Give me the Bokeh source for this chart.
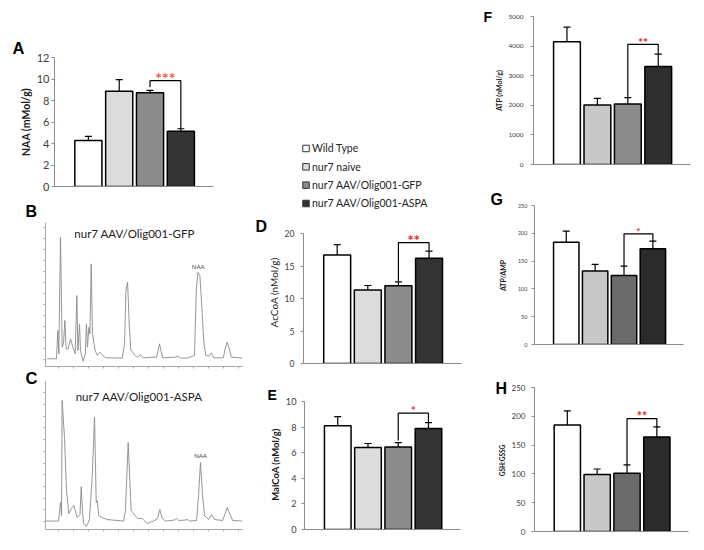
from bokeh.plotting import figure
from bokeh.models import (ColumnDataSource, Range1d, FixedTicker, Label, Whisker, TeeHead)
from bokeh.layouts import row, column
from bokeh.embed import file_html
from bokeh.resources import INLINE
from bokeh.core.properties import value

# ---------------- data ----------------
groups = ["Wild Type", "nur7 naive", "nur7 AAV/Olig001-GFP", "nur7 AAV/Olig001-ASPA"]
panel_letters = ["A", "B", "C", "D", "E", "F", "G", "H"]

naa_mean = [4.27, 8.85, 8.72, 5.15]
naa_err = [0.39, 1.09, 0.23, 0.22]
naa_bracket = [9.25, 9.84, 5.36]
naa_stars, naa_star_y = "***", 10.5
naa_ticks = [0, 2, 4, 6, 8, 10, 12]

accoa_mean = [16.7, 11.3, 11.95, 16.2]
accoa_err = [1.6, 0.7, 0.6, 1.1]
accoa_bracket = [12.7, 18.6, 17.4]
accoa_stars, accoa_star_y = "**", 19.6
accoa_ticks = [0, 5, 10, 15, 20]

malcoa_mean = [8.1, 6.4, 6.45, 7.9]
malcoa_err = [0.72, 0.32, 0.33, 0.45]
malcoa_bracket = [6.96, 9.09, 8.39]
malcoa_stars, malcoa_star_y = "*", 9.5
malcoa_ticks = [0, 2, 4, 6, 8, 10]

atp_mean = [4150, 2010, 2040, 3310]
atp_err = [490, 225, 220, 420]
atp_bracket = [2270, 4056, 3730]
atp_stars, atp_star_y = "**", 4236
atp_ticks = [0, 1000, 2000, 3000, 4000, 5000]

ratio_mean = [184, 132, 124, 172]
ratio_err = [20, 12, 17, 14]
ratio_bracket = [141, 199, 186]
ratio_stars, ratio_star_y = "*", 207
ratio_ticks = [0, 50, 100, 150, 200, 250]

gsh_mean = [185, 99, 101, 164]
gsh_err = [24.5, 9.5, 14.5, 17.5]
gsh_bracket = [116, 196, 181]
gsh_stars, gsh_star_y = "**", 205
gsh_ticks = [0, 50, 100, 150, 200, 250]

# chromatograms (minutes, signal)
gfp_time = [0.22, 0.84, 0.93, 1.0, 1.11, 1.22, 1.31, 1.4, 1.49, 1.62, 1.78, 1.93, 2.09, 2.2,
            2.27, 2.38, 2.44, 2.62, 2.76, 2.84, 2.91, 3.0, 3.07, 3.16, 3.24, 3.33, 3.42, 3.56,
            3.71, 3.84, 4.11, 5.22, 5.38, 5.47, 5.58, 5.69, 5.8, 5.93, 6.07, 6.24, 6.44, 6.62,
            7.51, 7.62, 7.71, 7.8, 7.93, 8.78, 8.93, 9.11, 9.56, 10.04, 10.16, 10.27, 10.4,
            10.53, 10.67, 10.8, 11.0, 11.16, 11.33, 11.96, 12.11, 12.22, 12.36, 12.49, 13.22]
gfp_signal = [0.02, 0.02, 2.59, 0.47, 11.08, 1.08, 1.38, 3.5, 0.92, 0.92, 1.83, 1.08, 0.47, 5.77,
              0.77, 3.2, 0.77, -0.2, 0.47, 3.2, 1.08, 2.89, 2.29, 8.65, 2.29, 1.53, 0.77, 0.32,
              0.62, 0.47, 0.11, 0.08, 1.38, 6.23, 6.98, 3.2, 0.77, 0.62, 0.32, 0.17, 0.41, 0.11,
              0.17, 0.77, 1.38, 0.77, 0.11, 0.17, 0.26, 0.08, 0.08, 0.32, 6.23, 7.89, 7.59,
              4.71, 1.38, 0.32, 0.26, 0.56, 0.11, 0.11, 1.08, 1.53, 0.92, 0.17, 0.08]

aspa_time = [0.11, 0.98, 1.11, 1.18, 1.22, 1.38, 1.51, 1.66, 1.84, 2.0, 2.22, 2.41, 2.49, 2.58,
             2.66, 2.84, 3.04, 3.22, 3.38, 3.49, 3.56, 3.66, 3.89, 4.22, 5.31, 5.44, 5.62, 5.82,
             5.93, 6.07, 6.27, 6.56, 6.89, 7.31, 7.58, 7.73, 7.89, 8.11, 8.71, 8.84, 8.98, 9.44,
             9.58, 9.71, 10.18, 10.31, 10.44, 10.58, 10.71, 10.98, 11.18, 11.38, 11.91, 12.08,
             12.22, 12.38, 12.58, 13.24]
aspa_signal = [0.04, 0.04, 1.62, 0.51, 10.34, 7.09, 2.65, 0.68, 1.11, 1.37, 0.34, 0.6, 2.99, 0.77,
               -0.17, -0.43, 0.17, 3.76, 8.89, 1.62, 1.79, 0.51, 0.34, 0.17, 0.04, 0.94, 6.75, 0.94,
               0.77, 0.51, 0.26, 0.26, -0.17, 0.04, 0.26, 1.03, 0.26, 0.04, 0.13, 0.26, 0.09, 0.13,
               0.17, 0.04, 0.09, 2.22, 5.04, 2.22, 0.51, 0.17, 0.6, 0.17, 0.09, 0.68,
               1.2, 0.68, 0.09, 0.04]
chrom_time_ticks = list(range(1, 14))
chrom_signal_ticks = list(range(0, 13))

FONT = "Lato"
LETTER_FONT = "Liberation Sans"


def base_fig(box, frame, x_range, y_range):
    x0, y0, x1, y1 = box
    l, t, r, b = frame
    p = figure(width=x1 - x0, height=y1 - y0, x_range=x_range, y_range=y_range,
               output_backend="svg", toolbar_location=None,
               min_border_left=l - x0, min_border_right=x1 - r,
               min_border_top=t - y0, min_border_bottom=y1 - b)
    p.outline_line_color = None
    p.xgrid.visible = False
    p.ygrid.visible = False
    p.background_fill_color = "white"
    p.border_fill_color = "white"
    return p


def strip_fig(box):
    # a figure whose frame is the whole box, ranges in page pixels (y downwards)
    x0, y0, x1, y1 = box
    p = figure(width=x1 - x0, height=y1 - y0, x_range=Range1d(x0, x1), y_range=Range1d(y1, y0),
               output_backend="svg", toolbar_location=None,
               x_axis_location=None, y_axis_location=None, min_border=0)
    p.outline_line_color = None
    p.xgrid.visible = False
    p.ygrid.visible = False
    p.border_fill_color = "white"
    return p


def put(p, frame, X, Y, text, size, bold=False, color="#111111", align="left",
        baseline="middle", angle=0.0, font=FONT):
    l, t, r, b = frame
    p.add_layout(Label(x=X - l, y=b - Y, x_units="screen", y_units="screen", text=text,
                       text_font=font, text_font_size=f"{size}px",
                       text_font_style="bold" if bold else "normal",
                       text_color=color, text_align=align, text_baseline=baseline,
                       angle=angle))


def hide_labels(ax):
    ax.major_label_text_font_size = "1px"
    ax.major_label_text_alpha = 0
    ax.major_label_standoff = 0


def bar_panel(box, frame, means, errs, ticks, bracket, stars, star_y, colors,
              tick_size, standoff, star_size, star_color):
    p = base_fig(box, frame, Range1d(-1.1, 4.06), Range1d(ticks[0], ticks[-1]))
    src = ColumnDataSource(dict(
        x=list(range(len(groups))), top=means,
        upper=[m + e for m, e in zip(means, errs)],
        lower=[m - e for m, e in zip(means, errs)],
        color=colors, group=groups))
    p.vbar(x="x", top="top", width=0.88, source=src, fill_color="color",
           line_color="black", line_width=1.5)
    p.add_layout(Whisker(source=src, base="x", upper="upper", lower="lower",
                         line_color="black", line_width=1.2,
                         upper_head=TeeHead(size=7, line_color="black", line_width=1.2),
                         lower_head=TeeHead(size=7, line_color="black", line_width=1.2)))
    p.line(x=[2, 2, 3, 3], y=[bracket[0], bracket[1], bracket[1], bracket[2]],
           line_color="black", line_width=1.2)
    p.text(x=[2.5], y=[star_y], text=[stars], text_color=star_color,
           text_font=value(FONT), text_font_size=f"{star_size}px", text_font_style="bold",
           text_align="center", text_baseline="middle", y_offset=round(0.25 * star_size))
    yax = p.yaxis[0]
    yax.ticker = FixedTicker(ticks=ticks)
    yax.axis_line_color = "#8c8c8c"
    yax.major_tick_line_color = "#8c8c8c"
    yax.major_tick_out = 3
    yax.major_tick_in = 0
    yax.minor_tick_out = 0
    yax.minor_tick_in = 0
    yax.major_label_standoff = int(standoff)
    yax.major_label_text_font = FONT
    yax.major_label_text_font_size = f"{tick_size}px"
    yax.major_label_text_color = "#404040"
    xax = p.xaxis[0]
    xax.ticker = FixedTicker(ticks=[])
    xax.axis_line_color = "#8c8c8c"
    xax.major_tick_out = 0
    xax.major_tick_in = 0
    xax.minor_tick_out = 0
    xax.minor_tick_in = 0
    hide_labels(xax)
    return p


def chrom_panel(box, frame, times, signal, y_lo, y_hi):
    p = base_fig(box, frame, Range1d(0.11, 13.24), Range1d(y_lo, y_hi))
    p.line(times, signal, line_color="#8a8a8a", line_width=0.9)
    for ax, tk in ((p.xaxis[0], chrom_time_ticks), (p.yaxis[0], chrom_signal_ticks)):
        ax.ticker = FixedTicker(ticks=tk)
        ax.axis_line_color = "#a8a8a8"
        ax.major_tick_line_color = "#a8a8a8"
        ax.major_tick_out = 2
        ax.major_tick_in = 0
        ax.minor_tick_out = 0
        ax.minor_tick_in = 0
        hide_labels(ax)
    return p


def letter(p, X, Y, text, size):
    # panel letter as a text glyph in the strip's pixel ranges: X = left edge, Y = centre
    p.text(x=[X], y=[Y], text=[text], text_font=value(LETTER_FONT),
           text_font_size=f"{size}px", text_font_style="bold", text_color="black",
           text_align="left", text_baseline="middle")


def ylabel(p, X, Y, text, size, bold=True):
    # rotated axis title as a text glyph in the strip's pixel ranges
    p.text(x=[X], y=[Y], text=[text], text_font=value(FONT), text_font_size=f"{size}px",
           text_font_style="bold" if bold else "normal", text_color="#1a1a1a",
           text_align="center", text_baseline="middle", angle=1.5707963)


def pair(strip, plot):
    # wrap each figure on its own so that the row does not align their frames
    return row(column(strip), column(plot))


pal1 = ["#ffffff", "#dcdcdc", "#8c8c8c", "#333333"]
pal2 = ["#ffffff", "#c8c8c8", "#8c8c8c", "#2f2f2f"]
pal3 = ["#ffffff", "#c8c8c8", "#6b6b6b", "#2b2b2b"]
RED = "#e8242c"
ORANGE = "#f0603c"

# ---- A ----
stA = strip_fig((0, 0, 33, 196))
letter(stA, 12, 47.5, panel_letters[0], 16.5)
ylabel(stA, 25, 121.5, "NAA (mMol/g)", 10.5)
pA = bar_panel((33, 0, 245, 196), (53, 57, 213, 186), naa_mean, naa_err, naa_ticks,
               naa_bracket, naa_stars, naa_star_y, pal1, 11, 2, 16, ORANGE)

# ---- B ----
stB = strip_fig((0, 196, 42, 369))
letter(stB, 25, 211, panel_letters[1], 16)
fB = (45, 222, 242, 366)
pB = chrom_panel((42, 196, 245, 369), fB, gfp_time, gfp_signal, -0.68, 12.41)
put(pB, fB, 134, 233.3, "nur7 AAV/Olig001-GFP", 11.5, align="center", color="#222222")
put(pB, fB, 197.7, 266, "NAA", 6, align="center", color="#444444")

# ---- C ----
stC = strip_fig((0, 369, 42, 546))
letter(stC, 25, 377.5, panel_letters[2], 16.5)
fC = (45, 381, 242, 529)
pC = chrom_panel((42, 369, 245, 546), fC, aspa_time, aspa_signal, -0.68, 11.97)
put(pC, fC, 138.5, 396, "nur7 AAV/Olig001-ASPA", 11.5, align="center", color="#222222")
put(pC, fC, 200, 455, "NAA", 6, align="center", color="#444444")

# ---- legend ----
pL = figure(width=225, height=215, x_range=Range1d(-60.5, 164.5),
            y_range=Range1d(3.655, -8.07), output_backend="svg", toolbar_location=None,
            x_axis_location=None, y_axis_location=None, min_border=0)
pL.outline_line_color = None
pL.xgrid.visible = False
pL.ygrid.visible = False
lsrc = ColumnDataSource(dict(x=[0] * len(groups), y=list(range(len(groups))),
                             color=pal1, group=groups))
pL.scatter(x="x", y="y", source=lsrc, marker="square", size=6.5, fill_color="color",
           line_color="#333333", line_width=1)
pL.text(x="x", y="y", text="group", source=lsrc, x_offset=6, text_baseline="middle",
        text_font=value(FONT), text_font_size="10.5px", text_color="#222222")

# ---- D ----
stD = strip_fig((245, 215, 281, 372))
letter(stD, 255, 226, panel_letters[3], 16)
ylabel(stD, 273.3, 292, "AcCoA (nMol/g)", 10, bold=False)
pD = bar_panel((281, 215, 470, 372), (303, 233, 461, 363), accoa_mean, accoa_err,
               accoa_ticks, accoa_bracket, accoa_stars, accoa_star_y, pal1, 8.6, 6, 14.5, RED)

# ---- E ----
stE = strip_fig((245, 372, 282, 546))
letter(stE, 267, 394, panel_letters[4], 14)
ylabel(stE, 275, 464, "MalCoA (nMol/g)", 9.5)
pE = bar_panel((282, 372, 470, 546), (302, 401, 460, 529), malcoa_mean, malcoa_err,
               malcoa_ticks, malcoa_bracket, malcoa_stars, malcoa_star_y, pal1, 9.2, 5, 11, RED)

# ---- F ----
stF = strip_fig((470, 0, 505, 176))
letter(stF, 483, 16.7, panel_letters[5], 14)
ylabel(stF, 498, 90, "ATP (nMol/g)", 7)
pF = bar_panel((505, 0, 700, 176), (531, 16, 690, 164), atp_mean, atp_err, atp_ticks,
               atp_bracket, atp_stars, atp_star_y, pal2, 6.5, 7, 12, RED)

# ---- G ----
stG = strip_fig((470, 176, 507, 362))
letter(stG, 490, 199.2, panel_letters[6], 16)
ylabel(stG, 502, 275, "ATP/AMP", 7)
pG = bar_panel((507, 176, 700, 362), (534, 205, 683, 344), ratio_mean, ratio_err,
               ratio_ticks, ratio_bracket, ratio_stars, ratio_star_y, pal3, 5.5, 4, 10, RED)

# ---- H ----
stH = strip_fig((470, 362, 507, 546))
letter(stH, 495, 387.5, panel_letters[7], 16)
ylabel(stH, 502, 460, "GSH:GSSG", 6.5)
pH = bar_panel((507, 362, 700, 546), (534, 387, 688, 531), gsh_mean, gsh_err, gsh_ticks,
               gsh_bracket, gsh_stars, gsh_star_y, pal3, 8, 6, 12.5, RED)

left = column(pair(stA, pA), pair(stB, pB), pair(stC, pC))
mid = column(pL, pair(stD, pD), pair(stE, pE))
right = column(pair(stF, pF), pair(stG, pG), pair(stH, pH))
layout = row(left, mid, right)
open("out.html", "w").write(file_html(layout, INLINE))
